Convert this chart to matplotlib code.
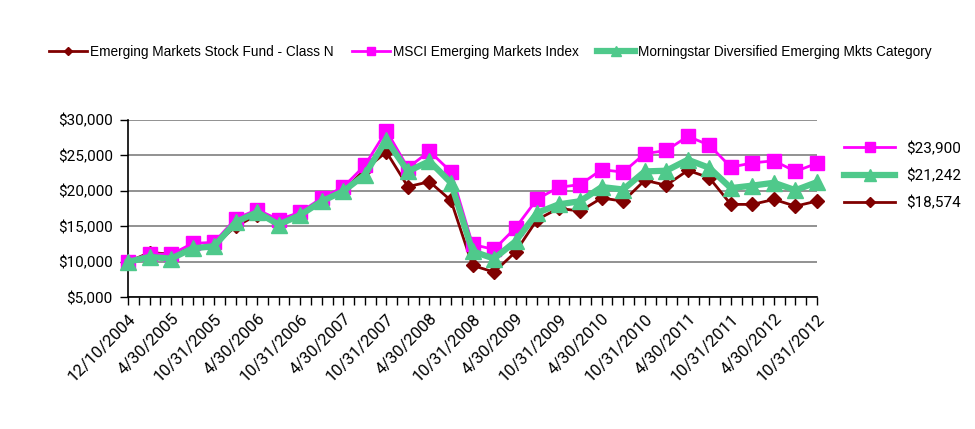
import matplotlib.pyplot as plt
import numpy as np

# quarter-end dates shown on the category axis
dates = ['12/10/2004', '1/31/2005', '4/30/2005', '7/31/2005', '10/31/2005',
         '1/31/2006', '4/30/2006', '7/31/2006', '10/31/2006',
         '1/31/2007', '4/30/2007', '7/31/2007', '10/31/2007',
         '1/31/2008', '4/30/2008', '7/31/2008', '10/31/2008',
         '1/31/2009', '4/30/2009', '7/31/2009', '10/31/2009',
         '1/31/2010', '4/30/2010', '7/31/2010', '10/31/2010',
         '1/31/2011', '4/30/2011', '7/31/2011', '10/31/2011',
         '1/31/2012', '4/30/2012', '7/31/2012', '10/31/2012']

fund = [10000, 11300, 11100, 12000, 12300, 15000, 16600, 15300, 16600, 18500, 20000,
        23000, 25500, 20600, 21300, 18650, 9500, 8550, 11400, 15950, 17550, 17150,
        19000, 18550, 21500, 20800, 22900, 21850, 18100, 18100, 18800, 17850, 18574]
msci = [10000, 11150, 11050, 12600, 12750, 16100, 17350, 15950, 17000, 19000, 20550,
        23600, 28500, 23250, 25600, 22700, 12450, 11750, 14800, 18850, 20500, 20900,
        23000, 22650, 25250, 25700, 27700, 26450, 23350, 23950, 24250, 22750, 23900]
category = [10000, 10700, 10450, 11900, 12200, 15600, 17000, 15250, 16600, 18550, 19950,
            22300, 27200, 22750, 24200, 21150, 11500, 10450, 12900, 16900, 18100, 18550,
            20550, 20200, 22750, 22850, 24400, 23250, 20400, 20750, 21150, 20100, 21242]

names = ['Emerging Markets Stock Fund - Class N', 'MSCI Emerging Markets Index',
         'Morningstar Diversified Emerging Mkts Category']
end_labels = ['$23,900', '$21,242', '$18,574']

c_fund = '#800000'
c_msci = '#FF00FF'
c_cat = '#4FC98B'
num_font = ['Roboto', 'DejaVu Sans']

fig = plt.figure(figsize=(9.75, 4.29), dpi=100)
ax = fig.add_axes([128 / 975, 1 - 297.3 / 429, (817 - 128) / 975, (297.3 - 120) / 429])

x = np.arange(len(dates))
l_fund, = ax.plot(x, fund, color=c_fund, lw=2, marker='D', ms=7, zorder=3, clip_on=False)
l_msci, = ax.plot(x, msci, color=c_msci, lw=2, marker='s', ms=10, zorder=4, clip_on=False)
l_cat, = ax.plot(x, category, color=c_cat, lw=4.5, marker='^', ms=12, zorder=5, clip_on=False)

ax.set_xlim(0, len(dates) - 1)
ax.set_ylim(5000, 30000)
ax.set_yticks(range(5000, 30001, 5000))
ax.set_yticklabels(['${:,}'.format(v) for v in range(5000, 30001, 5000)])
ax.yaxis.grid(True, color='#7f7f7f', lw=1.2)
ax.set_axisbelow(True)

ax.set_xticks(x[::2])
ax.set_xticklabels(dates[::2], rotation=45, ha='right', rotation_mode='anchor')
ax.set_xticks(np.arange(0, len(dates) - 0.9, 0.5), minor=True)
ax.tick_params(axis='x', which='both', length=6, width=1, direction='out', pad=4)
ax.tick_params(axis='y', length=6, width=1, pad=5)
ax.tick_params(axis='x', labelsize=12)
ax.tick_params(axis='y', labelsize=11)

for s in ['top', 'right']:
    ax.spines[s].set_visible(False)
for s in ['left', 'bottom']:
    ax.spines[s].set_linewidth(1.2)

for lab in ax.get_xticklabels() + ax.get_yticklabels():
    lab.set_family(num_font)

fig.legend([l_fund, l_msci, l_cat], names, loc='center', bbox_to_anchor=(0.503, 0.879),
           ncol=3, frameon=False, handlelength=2.8, handletextpad=0.25, columnspacing=1.3,
           prop={'family': ['Liberation Sans Narrow', 'Liberation Sans'], 'size': 9.8},
           markerscale=0.6)

fig.legend([l_msci, l_cat, l_fund], end_labels, loc='center left', bbox_to_anchor=(0.852, 0.59),
           frameon=False, handlelength=3.3, handletextpad=0.75, labelspacing=0.85,
           prop={'family': num_font, 'size': 11}, markerscale=0.7)

fig.savefig('out.png', dpi=100)
